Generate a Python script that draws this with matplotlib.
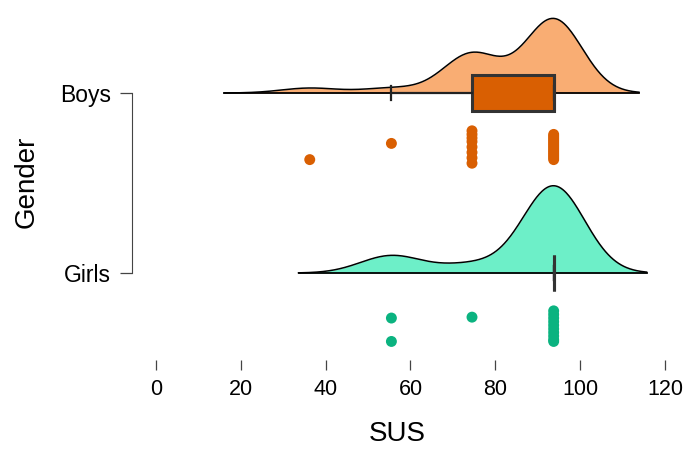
import numpy as np
import matplotlib
matplotlib.use("Agg")
from matplotlib import pyplot as plt

plt.rcParams['font.family'] = ['Liberation Sans', 'DejaVu Sans']

# data
groups = ["Girls", "Boys"]
boys_sus = [36.25, 55.5] + [74.5] * 8 + [93.75] * 15
girls_sus = [55.5, 55.5, 74.5] + [93.75] * 10

# vertical jitter of the dots (below each cloud)
boys_jit = [-0.37, -0.28,
            -0.21, -0.23, -0.25, -0.27, -0.30, -0.33, -0.36, -0.39,
            -0.23, -0.24, -0.25, -0.26, -0.27, -0.28, -0.29, -0.30,
            -0.31, -0.32, -0.33, -0.34, -0.35, -0.36, -0.37]
girls_jit = [-0.25, -0.38, -0.245,
             -0.21, -0.23, -0.25, -0.27, -0.29, -0.31, -0.33, -0.35, -0.37, -0.38]

cloud_col = {"Boys": "#F9AD73", "Girls": "#6DEFC8"}
dot_col = {"Boys": "#D95F02", "Girls": "#0BB380"}
bw = {"Boys": 6.7, "Girls": 7.3}
height_scale = 11.5

data = {"Boys": boys_sus, "Girls": girls_sus}
jit = {"Boys": boys_jit, "Girls": girls_jit}

fig = plt.figure(figsize=(6.84, 4.57), dpi=100)
ax = fig.add_axes([139 / 684, 97 / 457, 534.5 / 684, 350 / 457])

for pos, g in enumerate(groups):
    vals = np.array(data[g], dtype=float)
    h = bw[g]
    xs = np.linspace(vals.min() - 3 * h, vals.max() + 3 * h, 400)
    dens = np.exp(-0.5 * ((xs[:, None] - vals[None, :]) / h) ** 2).sum(axis=1)
    dens = dens / (len(vals) * h * np.sqrt(2 * np.pi)) * height_scale
    ax.fill_between(xs, pos, pos + dens, color=cloud_col[g], zorder=1, lw=0)
    ax.plot(xs, pos + dens, color="black", lw=1.1, zorder=2)
    ax.plot([xs[0], xs[-1]], [pos, pos], color="black", lw=1.3, zorder=2)

    bp = ax.boxplot(vals, positions=[pos], vert=False, widths=0.2,
                    patch_artist=True, showfliers=False, capwidths=0.08,
                    manage_ticks=False, zorder=3)
    for b in bp["boxes"]:
        b.set_facecolor(dot_col[g])
        b.set_edgecolor("#333333")
        b.set_linewidth(2.2)
    for w in bp["whiskers"] + bp["caps"]:
        w.set_color("#222222")
        w.set_linewidth(1.6)
    for m in bp["medians"]:
        m.set_color("#333333")
        m.set_linewidth(2.2)

    ax.scatter(vals, pos + np.array(jit[g]), s=62, color=dot_col[g],
               edgecolors="none", zorder=4)

ax.set_xlim(-4, 122)
ax.set_ylim(-0.483, 1.461)
ax.set_xticks(range(0, 121, 20))
ax.set_yticks([0, 1])
ax.set_yticklabels(groups)

for s in ["top", "right", "bottom"]:
    ax.spines[s].set_visible(False)
ax.spines["left"].set_bounds(0, 1)
ax.spines["left"].set_position(("outward", 5))
ax.spines["left"].set_color("#444444")

ax.tick_params(axis="x", length=7, width=0.9, color="#444444", labelsize=15.5, pad=7)
ax.tick_params(axis="y", length=9, width=0.9, color="#444444", labelsize=16.5, pad=6)

ax.set_xlabel("SUS", fontsize=20)
ax.set_ylabel("Gender", fontsize=20)
ax.xaxis.set_label_coords((397 - 139) / 534.5, -(421 - 360) / 350)
ax.yaxis.set_label_coords(-(139 - 40) / 534.5, (360 - 182) / 350)

fig.savefig("out.png", dpi=100)
